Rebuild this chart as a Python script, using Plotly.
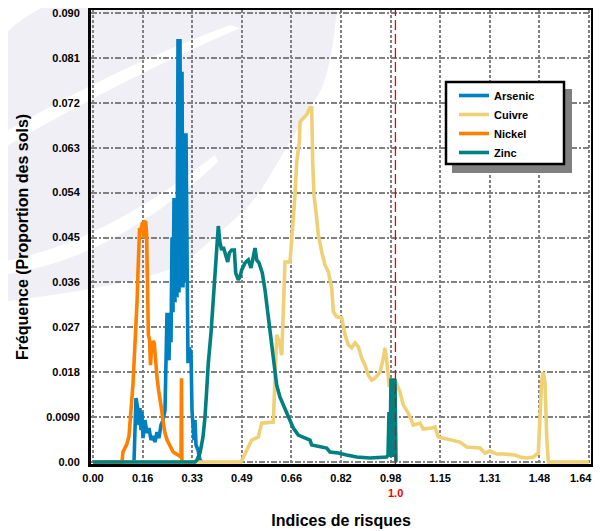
import plotly.graph_objects as go

# --- data ---
arsenic_x = [0.1356, 0.1389, 0.1422, 0.1488, 0.1521, 0.1554, 0.1587, 0.1620, 0.1653, 0.1719,
             0.1785, 0.1852, 0.1918, 0.1984, 0.2050, 0.2116, 0.2182, 0.2248, 0.2315, 0.2381,
             0.2447, 0.2480, 0.2513, 0.2546, 0.2579, 0.2612, 0.2645, 0.2678, 0.2711, 0.2744,
             0.2777, 0.2811, 0.2844, 0.2877, 0.2910, 0.2943, 0.2976, 0.3009, 0.3042, 0.3075,
             0.3108, 0.3141, 0.3174, 0.3240, 0.3273, 0.3340, 0.3373, 0.3406, 0.3472, 0.3538, 0.3604]
arsenic_y = [0, 0.0064, 0.0128, 0.0104, 0.0074, 0.0108, 0.0064, 0.0100, 0.0048, 0.0084,
             0.0058, 0.0068, 0.0044, 0.0052, 0.0040, 0.0060, 0.0048, 0.0074, 0.0084, 0.0104,
             0.0299, 0.0220, 0.0204, 0.0299, 0.0240, 0.0450, 0.0300, 0.0529, 0.0320, 0.0529,
             0.0330, 0.0848, 0.0340, 0.0848, 0.0350, 0.0782, 0.0350, 0.0659, 0.0360, 0.0659,
             0.0351, 0.0198, 0.0229, 0.0220, 0.0104, 0.0044, 0.0084, 0.0034, 0.0024, 0.0004, 0]

cuivre_x = [0, 0.4894, 0.4960, 0.5092, 0.5247, 0.5466, 0.5578, 0.5962, 0.6001, 0.6018,
            0.6074, 0.6160, 0.6239, 0.6292, 0.6348, 0.6514, 0.6570, 0.6623, 0.6679, 0.6735,
            0.6821, 0.6845, 0.6954, 0.7066, 0.7175, 0.7231, 0.7264, 0.7307, 0.7397, 0.7450,
            0.7562, 0.7671, 0.7780, 0.7893, 0.7946, 0.8058, 0.8223, 0.8332, 0.8441, 0.8554,
            0.8663, 0.8772, 0.8885, 0.8994, 0.9103, 0.9215, 0.9324, 0.9490, 0.9599, 0.9655,
            0.9711, 0.9797, 0.9853, 0.9985, 1.0151, 1.0260, 1.0425, 1.0591, 1.0812, 1.0921,
            1.1199, 1.1308, 1.1417, 1.1748, 1.2135, 1.2357, 1.2796, 1.2961, 1.3127, 1.3348,
            1.3567, 1.3953, 1.4119, 1.4340, 1.4559, 1.4724, 1.4780, 1.4836, 1.4889, 1.4945,
            1.5002, 1.5055, 1.64]
cuivre_y = [0, 0, 0.0008, 0.0024, 0.0044, 0.0050, 0.0078, 0.0080, 0.0144, 0.0188,
            0.0255, 0.0241, 0.0214, 0.0301, 0.0401, 0.0401, 0.0449, 0.0469, 0.0535, 0.0601,
            0.0641, 0.0682, 0.0690, 0.0696, 0.0710, 0.0710, 0.0601, 0.0535, 0.0489, 0.0455,
            0.0421, 0.0395, 0.0381, 0.0349, 0.0301, 0.0291, 0.0289, 0.0255, 0.0235, 0.0229,
            0.0239, 0.0231, 0.0208, 0.0194, 0.0174, 0.0164, 0.0168, 0.0180, 0.0208, 0.0229,
            0.0204, 0.0150, 0.0160, 0.0164, 0.0140, 0.0114, 0.0098, 0.0074, 0.0078, 0.0066,
            0.0068, 0.0070, 0.0050, 0.0046, 0.0040, 0.0030, 0.0028, 0.0018, 0.0022, 0.0016,
            0.0016, 0.0014, 0.0010, 0.0008, 0.0010, 0.0018, 0.0110, 0.0164, 0.0180, 0.0158,
            0.0050, 0, 0]

nickel_x = [0, 0.096, 0.099, 0.106, 0.112, 0.119, 0.122, 0.127, 0.132, 0.137,
            0.142, 0.146, 0.149, 0.152, 0.154, 0.157, 0.160, 0.164, 0.167, 0.170,
            0.174, 0.177, 0.180, 0.183, 0.187, 0.190, 0.193, 0.197, 0.200, 0.203,
            0.207, 0.212, 0.217, 0.222, 0.227, 0.232, 0.238, 0.245, 0.255, 0.265,
            0.281, 0.291, 0.2926, 0.294]
nickel_y = [0, 0, 0.0020, 0.0030, 0.0036, 0.0052, 0.0074, 0.0124, 0.0154, 0.0214,
            0.0265, 0.0325, 0.0385, 0.0445, 0.0469, 0.0461, 0.0469, 0.0481, 0.0449, 0.0481,
            0.0483, 0.0461, 0.0365, 0.0255, 0.0245, 0.0194, 0.0220, 0.0241, 0.0243, 0.0235,
            0.0194, 0.0168, 0.0144, 0.0128, 0.0104, 0.0080, 0.0058, 0.0044, 0.0030, 0.0020,
            0.0014, 0.0010, 0.0168, 0]

zinc_x = [0, 0.3373, 0.3439, 0.3538, 0.3637, 0.3703, 0.3760, 0.3812, 0.3902, 0.3978,
          0.4057, 0.4110, 0.4143, 0.4199, 0.4255, 0.4308, 0.4365, 0.4454, 0.4507, 0.4586,
          0.4672, 0.4718, 0.4804, 0.4861, 0.4917, 0.5026, 0.5135, 0.5224, 0.5300, 0.5357,
          0.5413, 0.5489, 0.5598, 0.5687, 0.5796, 0.5909, 0.5995, 0.6074, 0.6183, 0.6292,
          0.6405, 0.6514, 0.6623, 0.6788, 0.6944, 0.7066, 0.7175, 0.7231, 0.7506, 0.7727,
          0.7836, 0.8111, 0.8388, 0.8719, 0.9159, 0.9711, 0.9754, 0.9787, 0.9820, 0.9853,
          0.9886, 0.9919, 0.9952, 0.9985, 1.0018]
zinc_y = [0, 0, 0.0004, 0.0018, 0.0050, 0.0090, 0.0144, 0.0198, 0.0259, 0.0331,
          0.0405, 0.0451, 0.0473, 0.0439, 0.0425, 0.0431, 0.0421, 0.0401, 0.0419, 0.0425,
          0.0425, 0.0379, 0.0365, 0.0371, 0.0385, 0.0399, 0.0405, 0.0389, 0.0411, 0.0429,
          0.0405, 0.0399, 0.0379, 0.0345, 0.0291, 0.0239, 0.0194, 0.0154, 0.0130, 0.0114,
          0.0098, 0.0084, 0.0068, 0.0054, 0.0050, 0.0048, 0.0044, 0.0034, 0.0030, 0.0028,
          0.0020, 0.0018, 0.0014, 0.0010, 0.0008, 0.0010, 0.0014, 0.0100, 0.0010, 0.0168,
          0.0010, 0.0168, 0.0010, 0.0166, 0]

x_ticks = [0.0, 0.164, 0.328, 0.492, 0.656, 0.82, 0.984, 1.148, 1.312, 1.476, 1.64]
x_labels = ['0.00', '0.16', '0.33', '0.49', '0.66', '0.82', '0.98', '1.15', '1.31', '1.48', '1.64']
y_ticks = [0, 0.009, 0.018, 0.027, 0.036, 0.045, 0.054, 0.063, 0.072, 0.081, 0.090]
y_labels = ['0.00', '0.0090', '0.018', '0.027', '0.036', '0.045', '0.054', '0.063', '0.072', '0.081', '0.090']

series = [
    ('Arsenic', arsenic_x, arsenic_y, '#0080C0'),
    ('Cuivre', cuivre_x, cuivre_y, '#F0D074'),
    ('Nickel', nickel_x, nickel_y, '#FF8000'),
    ('Zinc', zinc_x, zinc_y, '#008080'),
]

# the page body has an 8px margin, so the figure sits at (8, 8)
W, H = 593, 523
ML, MR, MT, MB = 83, 10, 2, 67
PL, PT, PR, PB = 91, 10, 591, 464     # plot frame in page pixels


def paper(px, py):
    # page pixel -> paper coords (only for decoration)
    return (px - PL) / (PR - PL), (PB - py) / (PB - PT)


def deco_path(cmds):
    out = []
    for c in cmds:
        if isinstance(c, str):
            out.append(c)
        else:
            x, y = paper(*c)
            out.append('%.4f,%.4f' % (x, y))
    return ' '.join(out)


fig = go.Figure()
for name, xs, ys, col in series:
    fig.add_trace(go.Scatter(x=xs, y=ys, mode='lines', name=name,
                             line=dict(color=col, width=3.6)))

font = dict(family='Liberation Sans, Arial, sans-serif', color='black', weight='bold')

# background swoosh
lav = '#EFEFF5'
shapes = [
    dict(type='path', xref='paper', yref='paper', layer='below', line_width=0, fillcolor=lav,
         path=deco_path(['M', (0, 0), 'L', (337, 0), 'C', (335, 50), (325, 85), (318, 95),
                         'L', (260, 192), 'L', (245, 210), 'L', (185, 263),
                         'Q', (140, 285), (0, 302), 'Z'])),
    dict(type='path', xref='paper', yref='paper', layer='below', line_width=0, fillcolor='white',
         path=deco_path(['M', (0, 0), 'L', (60, 0), 'Q', (20, 15), (0, 40), 'Z'])),
    dict(type='path', xref='paper', yref='paper', layer='below', line_width=0, fillcolor='white',
         path=deco_path(['M', (0, 135), 'Q', (110, 70), (230, 25), 'L', (240, 28),
                         'Q', (120, 80), (0, 150), 'Z'])),
    dict(type='path', xref='paper', yref='paper', layer='below', line_width=0, fillcolor='white',
         path=deco_path(['M', (0, 262), 'Q', (100, 245), (215, 155), 'L', (218, 162),
                         'Q', (110, 262), (0, 275), 'Z'])),
]

# threshold line at 1.0
shapes.append(dict(type='line', xref='x', yref='paper', x0=1.0, x1=1.0, y0=0, y1=1,
                   line=dict(color='#F00000', width=1.3, dash='10px,4px'), layer='above'))

# legend shadow + box
sx0, sy0 = paper(452, 173)
sx1, sy1 = paper(572, 89)
shapes.append(dict(type='rect', xref='paper', yref='paper', x0=sx0, y0=sy0, x1=sx1, y1=sy1,
                   fillcolor='#808080', line_width=0, layer='above'))
bx0, by0 = paper(446, 164)
bx1, by1 = paper(564, 82)
shapes.append(dict(type='rect', xref='paper', yref='paper', x0=bx0, y0=by0, x1=bx1, y1=by1,
                   fillcolor='white', line=dict(color='black', width=2.5), layer='above'))

lx, ly = paper(454, 81)
ax, ay = paper(395, 493)
_, tick_y = paper(0, 478)

# last tick label: right-aligned so it stays inside the page
tick_texts = x_labels[:-1] + ['']
annots = [
    dict(x=1.0, y=ay, xref='x', yref='paper', text='1.0', showarrow=False,
         xanchor='center', yanchor='middle',
         font=dict(size=11, color='#F00000', family=font['family'], weight='bold')),
    dict(x=x_ticks[-1], y=tick_y, xref='x', yref='paper', text=x_labels[-1], showarrow=False,
         xanchor='right', yanchor='middle', xshift=5,
         font=dict(size=11, color='black', family=font['family'], weight='bold')),
]

fig.update_layout(
    width=W, height=H,
    margin=dict(l=ML, r=MR, t=MT, b=MB),
    paper_bgcolor='white',
    plot_bgcolor='rgba(0,0,0,0)',
    font=font,
    shapes=shapes,
    showlegend=True,
    legend=dict(x=lx, y=ly, xanchor='left', yanchor='top', bgcolor='rgba(0,0,0,0)',
                borderwidth=0, font=dict(size=11, family=font['family'], weight='bold'),
                tracegroupgap=0),
    annotations=annots,
)

fig.update_xaxes(range=[-0.0066, 1.6466], tickvals=x_ticks, ticktext=tick_texts,
                 showgrid=True, gridcolor='#808080', gridwidth=1.6, griddash='3px,2px',
                 zeroline=False, showline=True, mirror=True, linecolor='black', linewidth=3,
                 ticks='', ticklabelstandoff=2, ticklabeloverflow='allow', tickfont=dict(size=11),
                 title=dict(text='Indices de risques', font=dict(size=16), standoff=32),
                 automargin=False)
fig.update_yaxes(range=[-0.0004, 0.0906], tickvals=y_ticks, ticktext=y_labels,
                 showgrid=True, gridcolor='#808080', gridwidth=1.6, griddash='6px,2px,2px,2px',
                 zeroline=False, showline=True, mirror=True, linecolor='black', linewidth=3,
                 ticks='', ticklabelstandoff=6, ticklabeloverflow='allow', tickfont=dict(size=11),
                 title=dict(text='Fréquence (Proportion des sols)', font=dict(size=16), standoff=14),
                 automargin=False)

fig.write_html('out.html')
